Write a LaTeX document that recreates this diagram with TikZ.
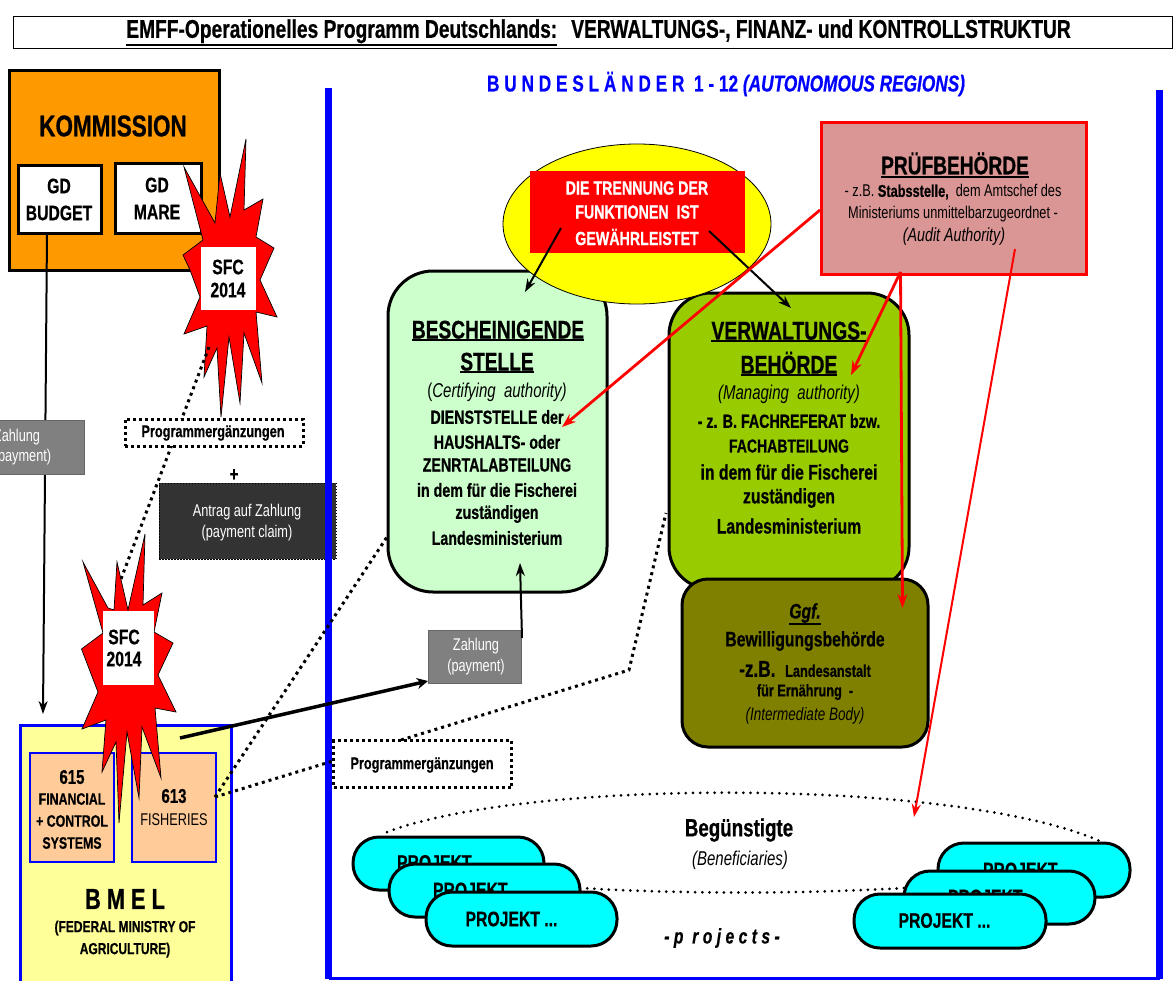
\documentclass[tikz,border=0pt]{standalone}
\usepackage{fontspec}
\setmainfont[FakeStretch=0.75,BoldFeatures={FakeBold=0.6},BoldItalicFeatures={FakeBold=0.6}]{Liberation Sans}
\usetikzlibrary{arrows.meta,shapes.geometric}
\newcommand{\fs}[1]{\fontsize{#1}{#1}\selectfont}
\newcommand{\ulb}[3]{\leavevmode\vtop{\hbox{#3}\kern#1\hrule height #2}}
\newcounter{tlc}
\newcommand{\tl}[4][black]{\stepcounter{tlc}\node[lab,text=#1,font=#3] (txt\thetlc) at #2 {#4};}
\definecolor{orangeK}{HTML}{FF9900}
\definecolor{mintB}{HTML}{CCFFCC}
\definecolor{limeV}{HTML}{99CC00}
\definecolor{oliveB}{HTML}{808000}
\definecolor{roseP}{HTML}{D99694}
\definecolor{yellowB}{HTML}{FFFF99}
\definecolor{peachB}{HTML}{FFCC99}
\definecolor{grayZ}{HTML}{808080}
\definecolor{darkA}{HTML}{333333}
\definecolor{blueF}{HTML}{0000FF}
\definecolor{cyanP}{HTML}{00FFFF}
\definecolor{yellowE}{HTML}{FFFF00}
\definecolor{redR}{HTML}{FF0000}
\tikzset{
 x=1pt,y=-1pt,
 lab/.style={inner sep=0pt,align=center},
 boxk/.style={draw=black,line width=3pt,fill=white,inner sep=0pt},
 zahl/.style={draw=black!60,line width=1pt,fill=grayZ,inner sep=0pt},
 dotbox/.style={draw=black,line width=3pt,dash pattern=on 3pt off 3pt,fill=white,inner sep=0pt},
 burst/.style={draw=black,line width=.7pt,fill=redR,line join=miter},
 sfc/.style={fill=white,inner sep=0pt},
 rbox/.style={draw=black,line width=3pt,inner sep=0pt},
 dept/.style={draw=blueF,line width=2pt,fill=peachB,inner sep=0pt},
 proj/.style={draw=black,line width=3pt,fill=cyanP,rounded corners=26pt,inner sep=0pt},
 dots/.style={line width=3pt,dash pattern=on 3pt off 4pt,black},
 thindots/.style={line width=3pt,dash pattern=on 0pt off 7.2pt,line cap=round,black},
 redarrow/.style={redR,line width=2pt,-{Stealth[length=13pt,width=9pt]}},
 redarrowt/.style={redR,line width=2.8pt,-{Stealth[length=14pt,width=10pt]}},
 blackarrow/.style={black,line width=2pt,-{Stealth[length=13pt,width=9pt]}},
 blackarrowt/.style={black,line width=3.5pt,-{Stealth[length=11pt,width=11pt]}},
}
\begin{document}
\begin{tikzpicture}
\useasboundingbox (0,0) rectangle (1174,980);
% title
\node[draw=black,line width=.6pt,fill=white,inner sep=0pt,minimum width=1159pt,minimum height=32pt] (title) at (592.5,32) {};
\tl{(598.5,32.5)}{\bfseries\fs{25.6}}{\ulb{1pt}{1.5pt}{EMFF-Operationelles Programm Deutschlands:}\hspace{14pt}VERWALTUNGS-, FINANZ- und KONTROLLSTRUKTUR}
\tl[blueF]{(726,84)}{\bfseries\fs{23}}{B U N D E S L Ä N D E R\ \ 1 - 12 \textit{(AUTONOMOUS REGIONS)}}
% commission
\node[draw=black,line width=3pt,fill=orangeK,minimum width=210pt,minimum height=200pt,inner sep=0pt] (komm) at (114,170) {};
\tl{(113,126)}{\bfseries\fs{30}}{KOMMISSION}
\node[boxk,minimum width=83pt,minimum height=68pt] (budget) at (59.5,199) {};
\node[boxk,minimum width=86pt,minimum height=70pt] (mare) at (158,198) {};
\tl{(59,186)}{\bfseries\fs{21}}{GD}
\tl{(59,213)}{\bfseries\fs{21}}{BUDGET}
\tl{(157,185)}{\bfseries\fs{21}}{GD}
\tl{(157,212)}{\bfseries\fs{21}}{MARE}
% BMEL
\node[draw=blueF,line width=3pt,fill=yellowB,minimum width=211pt,minimum height=280pt,inner sep=0pt] (bmel) at (125.5,865) {};
\node[dept,minimum width=84pt,minimum height=109pt] (d615) at (72,807.5) {};
\node[dept,minimum width=84pt,minimum height=109pt] (d613) at (174,807.5) {};
\tl{(72,777)}{\bfseries\fs{20}}{615}
\tl{(72,799)}{\bfseries\fs{16.5}}{FINANCIAL}
\tl{(72,821)}{\bfseries\fs{16.5}}{+ CONTROL}
\tl{(72,843)}{\bfseries\fs{16.5}}{SYSTEMS}
\tl{(174,796)}{\bfseries\fs{20}}{613}
\tl{(174,820)}{\fs{17}}{FISHERIES}
\tl{(125,899)}{\bfseries\fs{29}}{B M E L}
\tl{(125,928)}{\bfseries\fs{16}}{(FEDERAL MINISTRY OF}
\tl{(125,950)}{\bfseries\fs{16}}{AGRICULTURE)}
% zahlung left and budget line
\coordinate (budgetout) at (47,233);
\coordinate (bmelin) at (43,714);
\draw[blackarrow] (budgetout) -- (bmelin);
\node[zahl,minimum width=100pt,minimum height=54pt] (zl) at (34,447) {};
\tl[white]{(17,437)}{\fs{17}}{Zahlung}
\tl[white]{(22.5,457)}{\fs{17}}{(payment)}
% Antrag, frame
\node[draw=black,line width=1pt,dash pattern=on 1.5pt off 1.5pt,fill=darkA,minimum width=177pt,minimum height=76pt,inner sep=0pt] (antrag) at (247.5,521) {};
\tl[white]{(247,512)}{\fs{17}}{Antrag auf Zahlung}
\tl[white]{(247,533)}{\fs{17}}{(payment claim)}
\tl{(234,475)}{\bfseries\fs{20}}{+}
\coordinate (fTL) at (328.5,88);
\coordinate (fBL) at (328.5,978.5);
\coordinate (fBR) at (1159.5,978.5);
\coordinate (fTR) at (1159.5,90);
\draw[blueF,line width=7pt] (fTL) -- (fBL);
\draw[blueF,line width=7pt] (fTR) -- (fBR);
\draw[blueF,line width=3pt] (fBL) -- (fBR);
% burst 1
\path[burst] (184,167)--(215,223)--(220,173)--(230,217)--(246,139)--(244,210)--(263,199)--(256,237)--(274,248)--(260,280)--(277,317)--(256,312)--(262,383)--(244,333)--(240,403)--(229,337)--(221,417)--(217,348)--(204,377)--(207,326)--(184,334)--(200,297)--(190,270)--(183,255)--(203,240)--cycle;
\node[sfc,minimum width=55pt,minimum height=63pt] (sfc1) at (228.5,278.5) {};
\tl{(228,267)}{\bfseries\fs{21}}{SFC}
\tl{(228,290)}{\bfseries\fs{21}}{2014}
% burst 2
\path[burst] (83,562)--(108,608)--(114,610)--(117,562)--(128,610)--(145,534)--(143,605)--(162,593)--(154,632)--(173,643)--(158,675)--(176,712)--(155,708)--(161,778)--(142,727)--(139,798)--(127,732)--(119,823)--(116,742)--(102,772)--(106,720)--(82,729)--(98,692)--(81.5,649)--(103,633)--cycle;
\node[sfc,minimum width=51pt,minimum height=74pt] (sfc2) at (128.5,648) {};
\tl{(124,637)}{\bfseries\fs{21}}{SFC}
\tl{(124,659)}{\bfseries\fs{21}}{2014}
% dotted between bursts and programme box 1
\coordinate (dA) at (209,347);
\coordinate (dB) at (121,579);
\draw[dots] (dA) -- (dB);
\node[dotbox,minimum width=178pt,minimum height=27pt] (prog1) at (214,432.5) {};
\tl{(213,433)}{\bfseries\fs{17}}{Programmergänzungen}
% boxes centre
\node[rbox,fill=mintB,rounded corners=45pt,minimum width=219pt,minimum height=321pt] (besch) at (497.5,431.5) {};
\node[rbox,fill=limeV,rounded corners=42pt,minimum width=240pt,minimum height=296pt] (verw) at (789,441) {};
\node[rbox,fill=oliveB,rounded corners=26pt,minimum width=246pt,minimum height=168pt] (bew) at (805,663) {};
\node[draw=black,line width=.8pt,fill=yellowE,ellipse,minimum width=268pt,minimum height=160pt,inner sep=0pt] (ell) at (637,224) {};
\node[fill=redR,inner sep=0pt,minimum width=215pt,minimum height=82pt] (rotbox) at (637.5,212) {};
\tl[white]{(637,188)}{\bfseries\fs{19}}{DIE TRENNUNG DER}
\tl[white]{(637,212)}{\bfseries\fs{19}}{FUNKTIONEN\ \ IST}
\tl[white]{(637,237)}{\bfseries\fs{19}}{GEWÄHRLEISTET}
% Pruef
\node[draw=redR,line width=3pt,fill=roseP,inner sep=0pt,minimum width=265pt,minimum height=152pt] (pruef) at (953.5,198) {};
\tl{(955,165)}{\bfseries\fs{25.5}}{\ulb{1pt}{2pt}{PRÜFBEHÖRDE}}
\tl{(953,192)}{\fs{17}}{- z.B. \textbf{Stabsstelle,}\ \ dem Amtschef des}
\tl{(953,214)}{\fs{17}}{Ministeriums unmittelbarzugeordnet -}
\tl{(954,237)}{\itshape\fs{19}}{(Audit Authority)}
% Besch text
\tl{(498,331)}{\bfseries\fs{25.5}}{\ulb{.5pt}{2pt}{BESCHEINIGENDE}}
\tl{(497,363)}{\bfseries\fs{25.5}}{\ulb{.5pt}{2pt}{STELLE}}
\tl{(497,392)}{\fs{20}}{(\textit{Certifying\ \ authority)}}
\tl{(497,417)}{\bfseries\fs{19}}{DIENSTSTELLE der}
\tl{(497,442)}{\bfseries\fs{19}}{HAUSHALTS- oder}
\tl{(497,465)}{\bfseries\fs{19}}{ZENRTALABTEILUNG}
\tl{(497,490)}{\bfseries\fs{19}}{in dem für die Fischerei}
\tl{(497,514)}{\bfseries\fs{19}}{zuständigen}
\tl{(497,538)}{\bfseries\fs{19}}{Landesministerium}
% Verw text
\tl{(789,332)}{\bfseries\fs{25.8}}{\ulb{.5pt}{2pt}{VERWALTUNGS-}}
\tl{(789,364)}{\bfseries\fs{25.8}}{\ulb{.5pt}{2pt}{BEHÖRDE}}
\tl{(789,394)}{\fs{20}}{\textit{(Managing\ \ authority)}}
\tl{(789,421)}{\bfseries\fs{19}}{- z. B. FACHREFERAT bzw.}
\tl{(789,446)}{\bfseries\fs{18.7}}{FACHABTEILUNG}
\tl{(789,472)}{\bfseries\fs{21}}{in dem für die Fischerei}
\tl{(789,498)}{\bfseries\fs{21}}{zuständigen}
\tl{(789,526)}{\bfseries\fs{21}}{Landesministerium}
% Bew text
\tl{(805,614)}{\bfseries\itshape\fs{21}}{\ulb{.5pt}{1.5pt}{Ggf.}}
\tl{(805,641)}{\bfseries\fs{21}}{Bewilligungsbehörde}
\tl{(805,669)}{\bfseries\fs{17}}{\fs{23}-z.B.\ \ \fs{17}Landesanstalt}
\tl{(805,692)}{\bfseries\fs{17}}{für Ernährung\ \ -}
\tl{(805,716)}{\itshape\fs{18}}{(Intermediate Body)}
% Zahlung centre
\node[zahl,minimum width=93pt,minimum height=53pt] (zc) at (474.5,656.5) {};
\tl[white]{(476,646)}{\fs{17}}{Zahlung}
\tl[white]{(476,667)}{\fs{17}}{(payment)}
\coordinate (zcout) at (522,638);
\coordinate (beschin) at (520,563);
\draw[blackarrow] (zcout) -- (beschin);
% Programme box 2 and dotted
\coordinate (d613o) at (215,797);
\coordinate (beschl) at (387,537);
\coordinate (verwl) at (666,513);
\coordinate (bend) at (629,670);
\coordinate (p2o) at (401,740);
\coordinate (p2l) at (333,761);
\draw[dots] (d613o) -- (beschl);
\draw[dots] (d613o) -- (p2l);
\draw[dots] (p2o) -- (bend) -- (verwl);
\node[dotbox,minimum width=178pt,minimum height=47pt] (prog2) at (422.5,764) {};
\tl{(422,765)}{\bfseries\fs{17}}{Programmergänzungen}
% thick payment arrow
\coordinate (bmelout) at (180,738);
\coordinate (zcin) at (428,681);
\draw[blackarrowt] (bmelout) -- (zcin);
% ellipse arrows
\coordinate (rotA) at (561,228);
\coordinate (beschE) at (525,292);
\coordinate (rotB) at (709,231);
\coordinate (verwE) at (791,308);
\draw[blackarrow] (rotA) -- (beschE);
\draw[blackarrow] (rotB) -- (verwE);
% beneficiaries
\coordinate (oA) at (387,832);
\coordinate (oB) at (1102,842);
\coordinate (oC) at (580,888);
\coordinate (oD) at (904,888);
\draw[thindots] (oA) .. controls (530,778) and (960,778) .. (oB);
\draw[thindots] (oC) .. controls (680,894) and (800,894) .. (oD);
\tl{(739,830)}{\bfseries\fs{25}}{Begünstigte}
\tl{(740,860)}{\itshape\fs{20}}{(Beneficiaries)}
\tl{(722,938)}{\bfseries\itshape\fs{21}}{- p\ \ r o j e c t s -}
% projects
\node[proj,minimum width=191pt,minimum height=53pt] (pa) at (448.5,863.5) {};
\tl{(443,862.5)}{\bfseries\fs{21}}{PROJEKT ...}
\node[proj,minimum width=191pt,minimum height=53pt] (pb) at (484.5,890.5) {};
\tl{(479,890)}{\bfseries\fs{21}}{PROJEKT ...}
\node[proj,minimum width=191pt,minimum height=54pt] (pc) at (521.5,919) {};
\tl{(511.5,919)}{\bfseries\fs{21}}{PROJEKT ...}
\node[proj,minimum width=192pt,minimum height=54pt] (pd) at (1034,870) {};
\tl{(1029,870)}{\bfseries\fs{21}}{PROJEKT ...}
\node[proj,minimum width=191pt,minimum height=53pt] (pe) at (999.5,897.5) {};
\tl{(994,897)}{\bfseries\fs{21}}{PROJEKT ...}
\node[proj,minimum width=192pt,minimum height=54pt] (pf) at (950,921) {};
\tl{(944.5,920.5)}{\bfseries\fs{21}}{PROJEKT ...}
% red arrows
\coordinate (prA) at (820,210);
\coordinate (beschR) at (562,427);
\coordinate (prB) at (900.5,272);
\coordinate (verwR) at (851,375);
\coordinate (bewR) at (902.5,608);
\coordinate (prC) at (1015,249);
\coordinate (benR) at (914,817);
\draw[redarrowt] (prA) -- (beschR);
\draw[redarrowt] (prB) -- (verwR);
\draw[redarrowt] (prB) -- (bewR);
\draw[redarrow] (prC) -- (benR);
\end{tikzpicture}
\end{document}
